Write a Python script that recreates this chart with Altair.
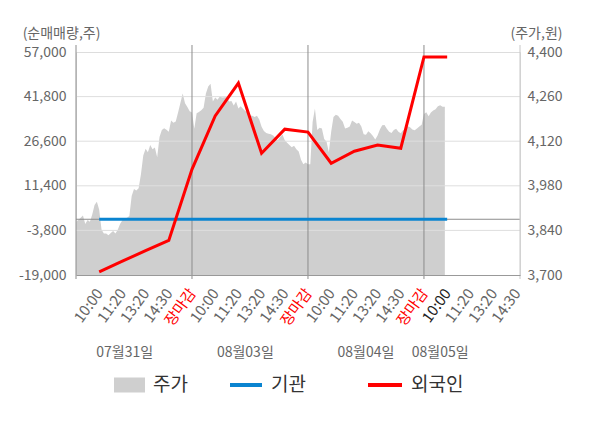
import altair as alt
import pandas as pd

FONT = "Noto Sans CJK KR"

# ---------------- data ----------------
tick_labels = ["10:00", "11:20", "13:20", "14:30", "장마감",
               "10:00", "11:20", "13:20", "14:30", "장마감",
               "10:00", "11:20", "13:20", "14:30", "장마감",
               "10:00", "11:20", "13:20", "14:30"]
close_slots = [4, 9, 14]
today_slot = 15
day_bounds = [-1, 4, 9, 14]

dates = ["07월31일", "08월03일", "08월04일", "08월05일"]
date_slots = [1.1, 6.3, 11.5, 14.7]

vol_ticks = [-19000, -3800, 11400, 26600, 41800, 57000]
price_ticks = [3700, 3840, 3980, 4120, 4260, 4400]

# 주가 (원), one reading every 0.1 slot starting at slot -1
price_day1 = [3867, 3873, 3880, 3887, 3860, 3873, 3867, 3890, 3920, 3930,
              3905, 3843, 3830, 3830, 3825, 3832, 3838, 3830, 3842, 3860,
              3872, 3877, 3880, 3885, 3948, 3970, 3965, 3972, 4016, 4075,
              4096, 4085, 4108, 4095, 4100, 4070, 4133, 4155, 4161, 4156,
              4150, 4185, 4178, 4182, 4210, 4240, 4270, 4239, 4227, 4214]
price_day2 = [4210, 4159, 4208, 4212, 4217, 4225, 4270, 4292, 4300, 4245,
              4257, 4250, 4260, 4257, 4258, 4258, 4245, 4246, 4232, 4245,
              4223, 4230, 4222, 4215, 4210, 4201, 4200, 4196, 4200, 4188,
              4165, 4152, 4146, 4143, 4142, 4138, 4130, 4123, 4133, 4141,
              4123, 4115, 4108, 4101, 4106, 4095, 4088, 4062, 4048, 4053]
price_day3 = [4048, 4048, 4180, 4223, 4155, 4162, 4160, 4127, 4118, 4085,
              4150, 4196, 4203, 4200, 4190, 4181, 4160, 4162, 4166, 4185,
              4180, 4175, 4178, 4166, 4142, 4140, 4151, 4145, 4136, 4125,
              4138, 4157, 4170, 4171, 4159, 4150, 4146, 4155, 4159, 4150,
              4145, 4154, 4157, 4167, 4164, 4157, 4154, 4160, 4166, 4172]
price_day4 = [4205, 4211, 4198, 4210, 4216, 4220, 4230, 4233, 4228, 4228]

# 순매매량 (주)
flow_slots = list(range(16))
foreign = [-17900, -14300, -10700, -7200, 17000, 35200, 46400, 22500,
           30700, 29700, 19100, 23200, 25300, 24200, 55300, 55300]
institution = [0, 0, 0, 0, 0, 0, 0, 0, 0, 0, 0, 0, 0, 0, 0, 0]

legend_labels = ["주가", "기관", "외국인"]

# ---------------- style ----------------
W, H = 444, 223
AREA = "#cfcfcf"
BLUE = "#0a84d0"
RED = "#ff0000"
GRID = "#dedede"
LABEL = "#666666"

prices = price_day1 + price_day2 + price_day3 + price_day4
price_df = pd.DataFrame({"slot": [round(-1 + 0.1 * i, 1) for i in range(len(prices))],
                         "price": prices})
flows = pd.DataFrame({"slot": flow_slots, "foreign": foreign, "inst": institution})

x_scale = alt.Scale(domain=[-1, 18.14], nice=False, zero=False)
label_arr = "[" + ",".join("'" + t + "'" for t in tick_labels) + "]"
close_test = " || ".join("datum.value == %d" % s for s in close_slots)
x_axis = alt.Axis(
    values=list(range(len(tick_labels))),
    labelExpr=label_arr + "[datum.value]",
    labelAngle=-54, labelAlign="right", labelBaseline="middle",
    labelPadding=15, ticks=False, tickSize=0, grid=False,
    domain=True, domainColor="#999999", domainWidth=1,
    labelFont=FONT, labelFontSize=15,
    labelColor={"condition": [{"test": close_test, "value": RED},
                              {"test": "datum.value == %d" % today_slot, "value": "#222222"}],
                "value": LABEL},
    labelOverlap=False, labelBound=False, labelFlush=False,
    title=None, zindex=1,
)


def X(field):
    return alt.X(field + ":Q", scale=x_scale, axis=x_axis)


vol_scale = alt.Scale(domain=[vol_ticks[0], vol_ticks[-1]], nice=False, zero=False)
price_scale = alt.Scale(domain=[price_ticks[0], price_ticks[-1]], nice=False, zero=False)

vol_axis = alt.Axis(
    orient="left", values=vol_ticks,
    labelExpr="(datum.value < 0 ? '-' : '') + format(abs(datum.value), ',')",
    ticks=False, tickSize=0, labelPadding=10, domain=False, grid=False,
    labelFont=FONT, labelFontSize=14, labelColor=LABEL,
    title="(순매매량,주)", titleAngle=0, titleX=-15, titleY=-19,
    titleAlign="center", titleBaseline="middle", titleFont=FONT,
    titleFontSize=14, titleFontWeight="normal", titleColor=LABEL,
)
price_axis = alt.Axis(
    orient="right", values=price_ticks,
    labelExpr="format(datum.value, ',')",
    ticks=False, tickSize=0, labelPadding=7, domain=False, grid=False,
    labelFont=FONT, labelFontSize=14, labelColor=LABEL,
    title="(주가,원)", titleAngle=0, titleX=16, titleY=-19,
    titleAlign="center", titleBaseline="middle", titleFont=FONT,
    titleFontSize=14, titleFontWeight="normal", titleColor=LABEL,
)

area = alt.Chart(price_df).mark_area(color=AREA, opacity=1).encode(
    x=X("slot"),
    y=alt.Y("price:Q", scale=price_scale, axis=price_axis),
    y2=alt.datum(price_ticks[0]),
)

grid = alt.Chart(pd.DataFrame({"v": vol_ticks[1:-1]})).mark_rule(color=GRID, strokeWidth=1).encode(
    y=alt.Y("v:Q", scale=vol_scale, axis=None),
    x=alt.value(0), x2=alt.value(W),
)

zero = alt.Chart(pd.DataFrame({"v": [0]})).mark_rule(color="#8c8c8c", strokeWidth=1).encode(
    y=alt.Y("v:Q", scale=vol_scale, axis=None),
    x=alt.value(0), x2=alt.value(W),
)

vlines = alt.Chart(pd.DataFrame({"slot": day_bounds})).mark_rule(color="#8c8c8c", strokeWidth=1).encode(
    x=X("slot"), y=alt.value(-7), y2=alt.value(H + 4),
)
rline = alt.Chart(pd.DataFrame({"a": [0]})).mark_rule(color="#c8c8c8", strokeWidth=1).encode(
    x=alt.value(W), y=alt.value(-7), y2=alt.value(H + 4),
)

blue = alt.Chart(flows).mark_line(color=BLUE, strokeWidth=3).encode(
    x=X("slot"), y=alt.Y("inst:Q", scale=vol_scale, axis=None),
)
red = alt.Chart(flows).mark_line(color=RED, strokeWidth=3).encode(
    x=X("slot"), y=alt.Y("foreign:Q", scale=vol_scale, axis=vol_axis),
)

date_text = alt.Chart(pd.DataFrame({"slot": date_slots, "d": dates})).mark_text(
    font=FONT, fontSize=14, color=LABEL, baseline="middle", align="center"
).encode(x=X("slot"), y=alt.value(301), text="d:N")

# ---------------- legend ----------------
LEG_Y = 333
leg_df = pd.DataFrame({"label": legend_labels})
leg_area = alt.Chart(leg_df.iloc[[0]]).mark_rect(color=AREA).encode(
    x=alt.value(38), x2=alt.value(69), y=alt.value(LEG_Y - 7.5), y2=alt.value(LEG_Y + 7.5))
leg_blue = alt.Chart(leg_df.iloc[[1]]).mark_rule(color=BLUE, strokeWidth=4).encode(
    x=alt.value(154), x2=alt.value(186), y=alt.value(LEG_Y))
leg_red = alt.Chart(leg_df.iloc[[2]]).mark_rule(color=RED, strokeWidth=4).encode(
    x=alt.value(292), x2=alt.value(326), y=alt.value(LEG_Y))
leg_texts = []
for i, lx in enumerate([77, 195, 335]):
    leg_texts.append(
        alt.Chart(leg_df.iloc[[i]]).mark_text(
            font=FONT, fontSize=19, color="#333333", align="left", baseline="middle"
        ).encode(x=alt.value(lx), y=alt.value(LEG_Y), text="label:N")
    )

chart = alt.layer(
    area, grid, zero, vlines, rline, blue, red, date_text,
    leg_area, leg_blue, leg_red, *leg_texts,
).resolve_scale(y="independent").properties(
    width=W, height=H,
    autosize=alt.AutoSizeParams(type="none"),
    padding={"left": 68, "top": 44, "right": 72, "bottom": 145},
).configure_view(strokeWidth=0, fill="#f4f4f4").configure(background="white", font=FONT)

chart.save("out.html", embed_options={"renderer": "svg", "actions": False})
